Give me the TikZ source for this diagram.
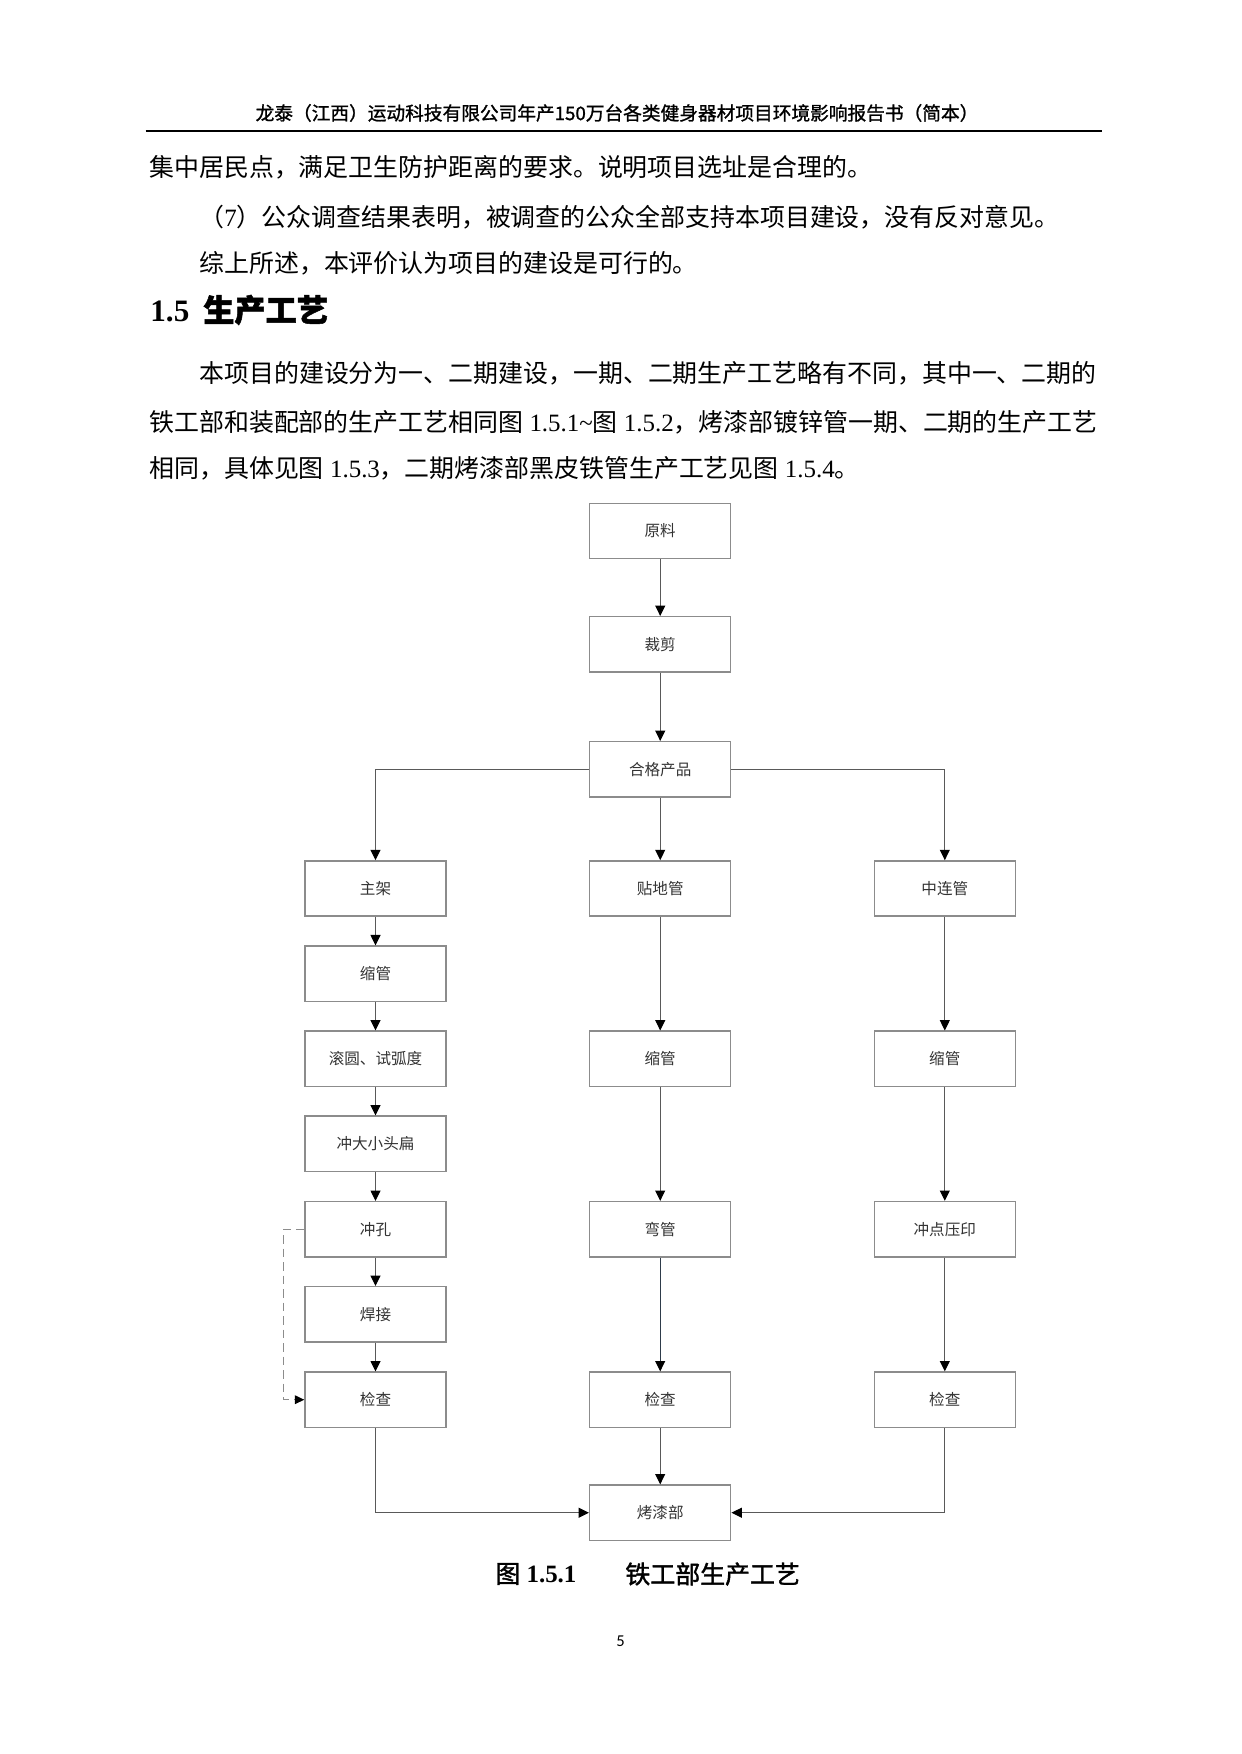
\documentclass[tikz,border=0pt]{standalone}
\usepackage{fontspec}
\setmainfont{Liberation Serif}
\newfontfamily\cjk{Noto Sans CJK SC}
\newfontfamily\cjkbold[FakeBold=1.6]{Noto Sans CJK SC}
\newfontfamily\cjkhead[FakeBold=1.2]{Noto Sans CJK SC}
\newfontfamily\pagefont{Carlito}
\usetikzlibrary{arrows.meta}
\definecolor{boxgray}{rgb}{0.55,0.55,0.55}
\definecolor{linegray}{rgb}{0.35,0.35,0.35}
\definecolor{linenavy}{rgb}{0.18,0.23,0.29}

\begin{document}
\begin{tikzpicture}[x=0.16922mm,y=0.16922mm,yscale=-1,xscale=1,
  procbox/.style={draw=boxgray,line width=0.7pt,minimum width=23.87mm,minimum height=9.34mm,
    inner sep=0pt,font=\cjk\fontsize{7.5pt}{9pt}\selectfont,text=black!80},
  flow/.style={draw=linegray,line width=0.5pt,-{Triangle[length=5pt,width=4.8pt,black]}},
  dashflow/.style={draw=boxgray,line width=0.5pt,dash pattern=on 4pt off 2.5pt,
    -{Triangle[length=4.5pt,width=4.2pt,black]}},
  bodyline/.style={anchor=west,inner sep=0pt,font=\fontsize{12pt}{14pt}\selectfont}]
\useasboundingbox (0,0) rectangle (1241,1754);
% Header
\node (head) at (617,113) [inner sep=0pt] {\cjkhead\fontsize{9pt}{11pt}\selectfont 龙泰（江西）运动科技有限公司年产150万台各类健身器材项目环境影响报告书（简本）};
%Straight Lines
\draw [line width=1pt] (145.6,131) -- (1101.8,131) ;
% Text Node
\node (t1) at (149,167) [bodyline] {\cjk 集中居民点，满足卫生防护距离的要求。说明项目选址是合理的。};
\node (t2) at (199,217) [bodyline] {{\cjk （}7{\cjk ）公众调查结果表明，被调查的公众全部支持本项目建设，没有反对意见。}};
\node (t3) at (199,263) [bodyline] {\cjk 综上所述，本评价认为项目的建设是可行的。};
% Heading
\node (sec) at (150,310) [anchor=west,inner sep=0pt,font=\fontsize{15pt}{18pt}\selectfont] {\bfseries 1.5\hspace{6.7pt}{\cjkbold 生产工艺}};
% Text Node
\node (p1) at (199,373) [bodyline] {\cjk 本项目的建设分为一、二期建设，一期、二期生产工艺略有不同，其中一、二期的};
\node (p2) at (149,422) [bodyline] {{\cjk 铁工部和装配部的生产工艺相同图} 1.5.1\textasciitilde{\cjk 图} 1.5.2{\cjk ，烤漆部镀锌管一期、二期的生产工艺}};
\node (p3) at (149,468) [bodyline] {{\cjk 相同，具体见图} 1.5.3{\cjk ，二期烤漆部黑皮铁管生产工艺见图} 1.5.4{\cjk 。}};

%Shape: Rectangle
\node (yl) at (660.2,531) [procbox] {原料};
\node (cj) at (660.2,644.3) [procbox] {裁剪};
\node (hg) at (660.2,769.3) [procbox] {合格产品};
% left column
\node (zj) at (375.5,888.5) [procbox] {主架};
\node (sg1) at (375.5,973.7) [procbox] {缩管};
\node (gy) at (375.5,1058.8) [procbox] {滚圆、试弧度};
\node (cd) at (375.5,1143.8) [procbox] {冲大小头扁};
\node (ck) at (375.5,1229.2) [procbox] {冲孔};
\node (hj) at (375.5,1314.3) [procbox] {焊接};
\node (jc1) at (375.5,1399.7) [procbox] {检查};
% middle column
\node (tdg) at (660.2,888.5) [procbox] {贴地管};
\node (sg2) at (660.2,1058.8) [procbox] {缩管};
\node (wg) at (660.2,1229.2) [procbox] {弯管};
\node (jc2) at (660.2,1399.7) [procbox] {检查};
% right column
\node (zlg) at (944.8,888.5) [procbox] {中连管};
\node (sg3) at (944.8,1058.8) [procbox] {缩管};
\node (cy) at (944.8,1229.2) [procbox] {冲点压印};
\node (jc3) at (944.8,1399.7) [procbox] {检查};
\node (kq) at (660.2,1512.7) [procbox] {烤漆部};

%Straight Lines
\draw [flow] (yl) -- (cj) ;
\draw [flow] (cj) -- (hg) ;
\draw [flow] (hg) -- (tdg) ;
\draw [flow] (hg.west) -| (zj.north) ;
\draw [flow] (hg.east) -| (zlg.north) ;
\draw [flow] (zj) -- (sg1) ;
\draw [flow] (sg1) -- (gy) ;
\draw [flow] (gy) -- (cd) ;
\draw [flow] (cd) -- (ck) ;
\draw [flow] (ck) -- (hj) ;
\draw [flow] (hj) -- (jc1) ;
\draw [flow] (tdg) -- (sg2) ;
\draw [flow] (sg2) -- (wg) ;
\draw [flow,draw=linenavy] (wg) -- (jc2) ;
\draw [flow] (zlg) -- (sg3) ;
\draw [flow] (sg3) -- (cy) ;
\draw [flow] (cy) -- (jc3) ;
\draw [flow] (jc2) -- (kq) ;
\draw [flow] (jc1.south) |- (kq.west) ;
\draw [flow] (jc3.south) |- (kq.east) ;
%Dashed Lines
\draw [dashflow] (ck.west) -- ++(-21,0) |- (jc1.west) ;

% Caption
\node (capno) at (495,1574) [anchor=west,inner sep=0pt,font=\fontsize{12pt}{14pt}\selectfont] {{\cjkbold 图} \bfseries 1.5.1};
\node (captxt) at (625,1574) [anchor=west,inner sep=0pt,font=\fontsize{12pt}{14pt}\selectfont] {\cjkbold 铁工部生产工艺};
% Page number
\node (pg) at (620.5,1641) [inner sep=0pt,font=\pagefont\fontsize{8pt}{10pt}\selectfont] {5};
\end{tikzpicture}
\end{document}
